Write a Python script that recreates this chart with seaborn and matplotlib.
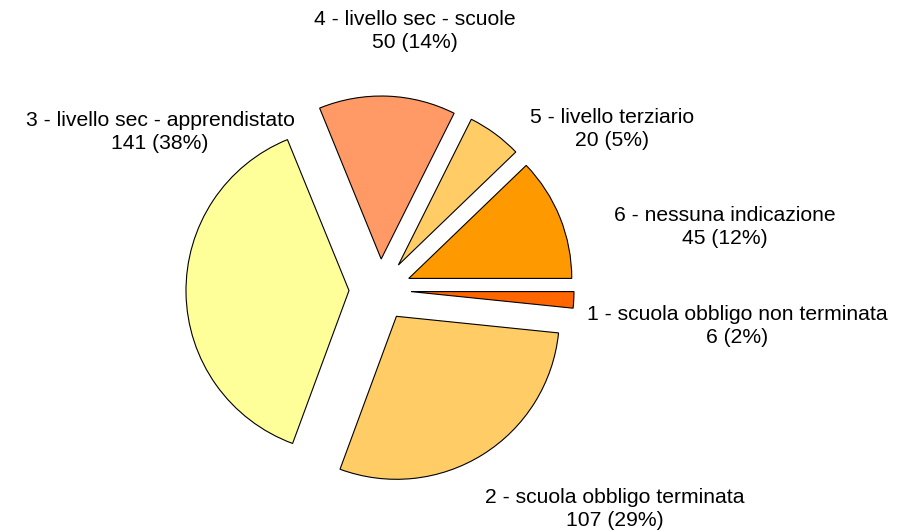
import matplotlib
matplotlib.use("Agg")
import matplotlib.pyplot as plt
import seaborn as sns

categories = [
    "1 - scuola obbligo non terminata",
    "2 - scuola obbligo terminata",
    "3 - livello sec - apprendistato",
    "4 - livello sec - scuole",
    "5 - livello terziario",
    "6 - nessuna indicazione",
]
values = [6, 107, 141, 50, 20, 45]
colors = ["#FF6600", "#FFCC66", "#FFFF99", "#FF9966", "#FFCC66", "#FF9900"]

sns.set_style("white")
plt.rcParams['font.family'] = ['Liberation Sans', 'DejaVu Sans']

W, H = 908, 531
fig = plt.figure(figsize=(W / 100, H / 100), dpi=100)
ax = fig.add_axes([0, 0, 1, 1])

ax.pie(values, colors=colors, startangle=0, counterclock=False,
       explode=[31] * len(values), radius=163, center=(380, H - 290),
       wedgeprops=dict(edgecolor="black", linewidth=0.8))
ax.set_xlim(0, W)
ax.set_ylim(0, H)
ax.set_aspect("equal")
ax.axis("off")

total = sum(values)
label_pos = [(737, 326), (615, 509), (160, 132), (415, 31), (612, 129), (725, 227)]
for cat, v, (x, y) in zip(categories, values, label_pos):
    ax.text(x, H - y, f"{cat}\n{v} ({round(100 * v / total):.0f}%)",
            ha="center", va="center", fontsize=15.2, linespacing=1.22,
            color="black")

fig.savefig("out.png", dpi=100)
